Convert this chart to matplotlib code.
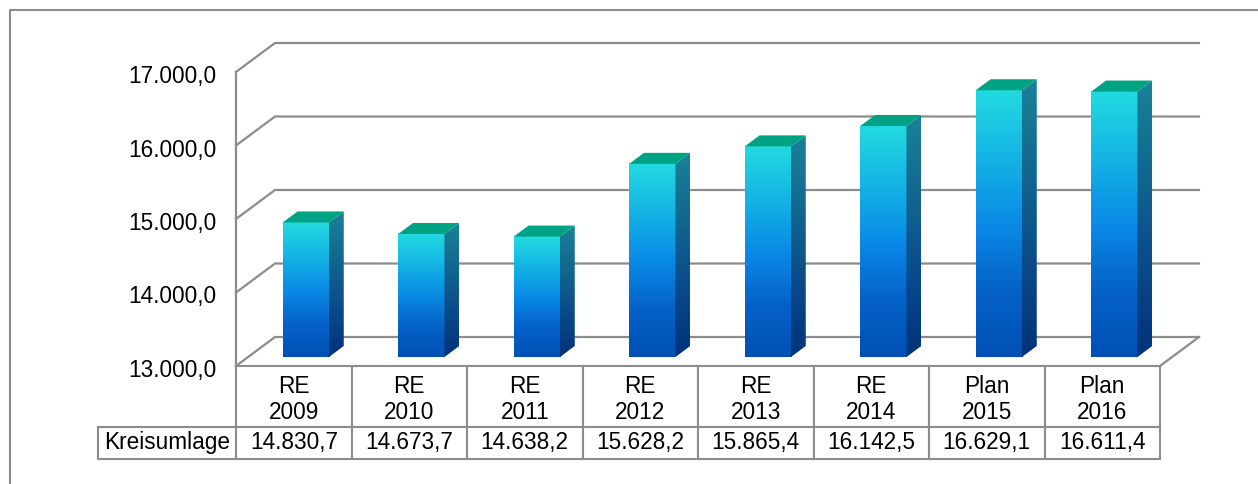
import numpy as np
import matplotlib
matplotlib.use("Agg")
import matplotlib.pyplot as plt
import matplotlib.transforms as mtransforms
from matplotlib.colors import LinearSegmentedColormap
from matplotlib.patches import Polygon
from matplotlib.lines import Line2D
from matplotlib.table import Table

plt.rcParams['font.family'] = ['Liberation Sans', 'DejaVu Sans']

# -------------------------
# data
# -------------------------
categories = ["RE\n2009", "RE\n2010", "RE\n2011", "RE\n2012",
              "RE\n2013", "RE\n2014", "Plan\n2015", "Plan\n2016"]
values = [14830.7, 14673.7, 14638.2, 15628.2, 15865.4, 16142.5, 16629.1, 16611.4]
value_labels = ["14.830,7", "14.673,7", "14.638,2", "15.628,2",
                "15.865,4", "16.142,5", "16.629,1", "16.611,4"]
row_label = "Kreisumlage"
yticks = [13000, 14000, 15000, 16000, 17000]
ytick_labels = ["13.000,0", "14.000,0", "15.000,0", "16.000,0", "17.000,0"]

W, H = 1258, 484
FS = 16.3
fig = plt.figure(figsize=(W / 100, H / 100), dpi=100)

# front plane of the 3D box in pixels
left_px, right_px, top_px, bot_px = 236, 1160, 72, 366
ax = fig.add_axes([left_px / W, 1 - bot_px / H, (right_px - left_px) / W, (bot_px - top_px) / H])
n = len(categories)
ymin, ymax = 13000, 17000
ax.set_xlim(0, n)
ax.set_ylim(ymin, ymax)

# depth offset (in data units)
DX = 39 / ((right_px - left_px) / n)
DY = 29 / (bot_px - top_px) * (ymax - ymin)
grid_c = "#8c8c8c"

# walls / gridlines
ax.plot([0, 0], [ymin, ymax], color=grid_c, lw=1.6, clip_on=False, zorder=1)
for v in yticks:
    ax.plot([0, DX, n + DX], [v, v + DY, v + DY], color=grid_c, lw=1.6,
            clip_on=False, zorder=1, solid_joinstyle="miter")
ax.plot([n, n + DX], [ymin, ymin + DY], color=grid_c, lw=1.6, clip_on=False, zorder=1)

# bars
front_cmap = LinearSegmentedColormap.from_list(
    "front", ["#0050b4", "#0562c8", "#0a8ae6", "#14b4e4", "#22dae0"])
side_cmap = LinearSegmentedColormap.from_list(
    "side", ["#00337a", "#0a4a8a", "#12678f", "#1a8298"])
top_c = "#00a284"
grad = np.linspace(0, 1, 256).reshape(-1, 1)

d1, d2 = 0.31, 0.69
bw = 0.4
for i, v in enumerate(values):
    x0 = i + 0.5 - bw / 2 + d1 * DX
    x1 = x0 + bw
    yb = ymin + d1 * DY
    yt = v + d1 * DY
    ddx = (d2 - d1) * DX
    ddy = (d2 - d1) * DY
    # front face
    ax.imshow(grad, cmap=front_cmap, origin="lower", aspect="auto",
              extent=[x0, x1, yb, yt], zorder=3, clip_on=False)
    # side face
    side = Polygon([(x1, yb), (x1 + ddx, yb + ddy), (x1 + ddx, yt + ddy), (x1, yt)],
                   closed=True, transform=ax.transData)
    im = ax.imshow(grad, cmap=side_cmap, origin="lower", aspect="auto",
                   extent=[x1, x1 + ddx, yb, yt + ddy], zorder=3)
    im.set_clip_path(side)
    # top face
    ax.fill([x0, x1, x1 + ddx, x0 + ddx], [yt, yt, yt + ddy, yt + ddy],
            color=top_c, zorder=3, lw=0, clip_on=False)

ax.set_xlim(0, n)
ax.set_ylim(ymin, ymax)

for s in ax.spines.values():
    s.set_visible(False)
ax.set_xticks([])
ax.set_yticks(yticks)
ax.set_yticklabels(ytick_labels, fontsize=FS)
ax.tick_params(axis="y", length=0, pad=14.4)
for lab in ax.get_yticklabels():
    lab.set_transform(lab.get_transform() + mtransforms.Affine2D().translate(0, -2))

# -------------------------
# data table below the bars
# -------------------------
aw = right_px - left_px
ah = bot_px - top_px
col_w = 1.0 / n
row_w = (left_px - 98) / aw
h_head, h_row = 61 / ah, 32 / ah
tbl = Table(ax, bbox=[-row_w, -(h_head + h_row), 1 + row_w, h_head + h_row])
tbl.auto_set_font_size(False)
tbl.set_fontsize(FS)
for j, cat in enumerate(categories):
    c = tbl.add_cell(0, j + 1, width=col_w, height=h_head, text=cat, loc="center")
    c.get_text().set_transform(mtransforms.Affine2D().translate(0, -3))
    tbl.add_cell(1, j + 1, width=col_w, height=h_row, text=value_labels[j], loc="center")
tbl.add_cell(1, 0, width=row_w, height=h_row, text=row_label, loc="center")
for cell in tbl.get_celld().values():
    cell.set_edgecolor(grid_c)
    cell.set_linewidth(1.5)
    cell.get_text().set_fontsize(FS)
    cell.PAD = 0.02
ax.add_table(tbl)

# outer frame
fig.add_artist(Line2D([10 / W, 10 / W, 1.0], [0.0, 1 - 10 / H, 1 - 10 / H],
                      color="#8c8c8c", lw=1.5, transform=fig.transFigure))

fig.savefig("out.png", dpi=100)
